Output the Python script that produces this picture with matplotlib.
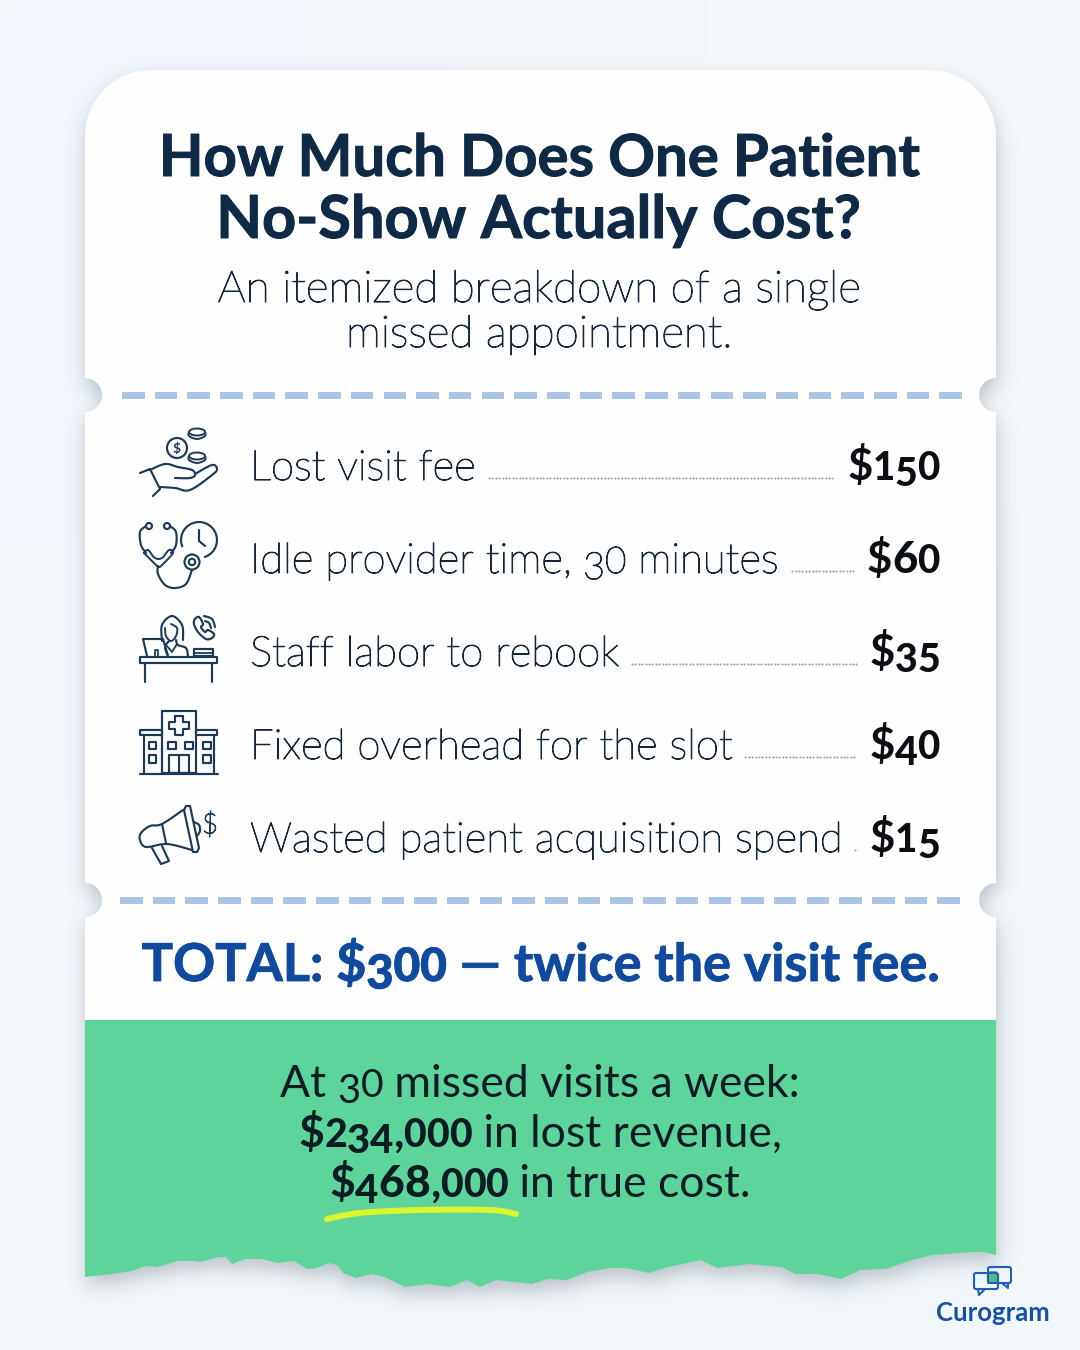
#!/usr/bin/env python
# no-show cost card, drawn in pixel coordinates
import numpy as np
import matplotlib
matplotlib.use("Agg")
import matplotlib.pyplot as plt
import matplotlib.patheffects as pe
from matplotlib.path import Path
from matplotlib.patches import Circle, Ellipse, FancyBboxPatch, Polygon, Rectangle

title_lines = ["How Much Does One Patient", "No-Show Actually Cost?"]
subtitle_lines = ["An itemized breakdown of a single", "missed appointment."]
item_labels = ["Lost visit fee", "Idle provider time, 30 minutes", "Staff labor to rebook",
               "Fixed overhead for the slot", "Wasted patient acquisition spend"]
item_costs = [150, 60, 35, 40, 15]
total_text = "TOTAL: $300 — twice the visit fee."
footer_lines = [[("At 30 missed visits a week:", "normal")],
                [("$234,000", "bold"), (" in lost revenue,", "normal")],
                [("$468,000", "bold"), (" in true cost.", "normal")]]
brand = "Curogram"

NAVY = "#0f2a47"
BODY = "#14263a"
ICON = "#1c3a58"
BLUE = "#0f4a9e"
GREEN = "#5dd49b"
FONT = "Lato"

fig = plt.figure(figsize=(10.8, 13.5), dpi=100)
ax = fig.add_axes([0, 0, 1, 1])
renderer = fig.canvas.get_renderer()

# pale page background
bg = np.array([[[0.945, 0.968, 0.988], [0.965, 0.98, 0.992]],
               [[0.955, 0.975, 0.99], [0.945, 0.97, 0.985]]])
ax.imshow(bg, extent=(0, 1080, 1350, 0), interpolation="bicubic", aspect="auto", zorder=0)
ax.set_xlim(0, 1080)
ax.set_ylim(1350, 0)
ax.axis("off")


def arc(cx, cy, r, a0, a1, n=24):
    t = np.radians(np.linspace(a0, a1, n))
    return np.column_stack([cx + r * np.cos(t), cy + r * np.sin(t)])


def spline(pts, closed=False, n=10):
    # catmull-rom through hand read points, gives softer icon lines
    p = np.array(pts, float)
    if closed:
        p = np.vstack([p[-1], p, p[0], p[1]])
    else:
        p = np.vstack([p[0], p, p[-1]])
    out = []
    for i in range(1, len(p) - 2):
        t = np.linspace(0, 1, n)[:, None]
        a, b, c, d = p[i - 1], p[i], p[i + 1], p[i + 2]
        out.append(0.5 * (2 * b + (c - a) * t + (2 * a - 5 * b + 4 * c - d) * t ** 2
                          + (3 * b - a - 3 * c + d) * t ** 3))
    return np.vstack(out)


def ink(pts, lw=1.55, smooth=True, closed=False, color=ICON):
    xy = spline(pts, closed) if smooth else np.array(pts, float)
    ax.plot(xy[:, 0], xy[:, 1], color=color, lw=lw, solid_capstyle="round",
            solid_joinstyle="round", zorder=5)


def box(x0, y0, x1, y1, lw=1.55):
    ax.add_patch(Rectangle((x0, y0), x1 - x0, y1 - y0, fc="none", ec=ICON, lw=lw,
                           joinstyle="round", zorder=5))


def ring(cx, cy, r, lw=1.55):
    ax.add_patch(Circle((cx, cy), r, fc="none", ec=ICON, lw=lw, zorder=5))


# paper outline
torn_x = [85, 112, 132, 145, 158, 177, 193, 200, 219, 226, 232, 245, 262, 278, 294, 307, 317, 328, 337,
          343, 356, 372, 385, 405, 428, 450, 467, 480, 496, 532, 548, 567, 587, 610, 626, 649, 668, 701,
          717, 750, 782, 795, 818, 841, 860, 886, 912, 932, 971, 984, 996]
torn_y = [1277, 1274, 1271, 1266, 1267, 1261, 1261, 1262, 1257, 1257, 1264, 1259, 1259, 1263, 1261, 1269,
          1268, 1263, 1265, 1273, 1278, 1274, 1277, 1287, 1284, 1287, 1280, 1287, 1280, 1284, 1279, 1280,
          1272, 1268, 1268, 1273, 1267, 1260, 1268, 1264, 1267, 1274, 1274, 1279, 1270, 1269, 1260, 1255,
          1252, 1252, 1255]
torn = np.column_stack([torn_x, torn_y])
L, R, TOP, SPLIT = 85, 996, 70, 1020
RAD, NOTCH = 66, 17
upper_run = np.vstack([
    arc(L, 900, NOTCH, 90, -90),
    arc(L, 395, NOTCH, 90, -90),
    arc(L + RAD, TOP + RAD, RAD, 180, 270),
    arc(R - RAD, TOP + RAD, RAD, 270, 360),
    arc(R, 395, NOTCH, 270, 90),
    arc(R, 900, NOTCH, 270, 90),
])
top_part = np.vstack([upper_run, [[R, SPLIT], [L, SPLIT]]])
whole = np.vstack([upper_run, torn[::-1]])

# soft shadow: blurred mask of the paper outline
yy, xx = np.mgrid[0:1350:2, 0:1080:2]
mask = Path(whole).contains_points(np.column_stack([xx.ravel(), yy.ravel() - 8])).reshape(xx.shape).astype(float)
kernel = np.exp(-0.5 * (np.arange(-15, 16) / 5.0) ** 2)
kernel /= kernel.sum()
blur = np.apply_along_axis(lambda v: np.convolve(v, kernel, mode="same"), 0, mask)
blur = np.apply_along_axis(lambda v: np.convolve(v, kernel, mode="same"), 1, blur)
shadow = np.zeros(mask.shape + (4,))
shadow[..., :3] = [0.22, 0.28, 0.34]
shadow[..., 3] = blur * 0.3
ax.imshow(shadow, extent=(0, 1080, 1350, 0), interpolation="bilinear", aspect="auto", zorder=1)
ax.set_xlim(0, 1080)
ax.set_ylim(1350, 0)

ax.add_patch(Polygon(top_part, closed=True, fc="#fdfefd", ec="none", zorder=2))
green_part = np.vstack([[[L, SPLIT], [R, SPLIT]], torn[::-1]])
ax.add_patch(Polygon(green_part, closed=True, fc=GREEN, ec="none", zorder=2))


# text helpers, digits are placed one at a time to get old-style figures
def text_width(s, size, weight):
    t = ax.text(0, 0, "|" + s + "|", fontsize=size, fontweight=weight, family=FONT)
    w = t.get_window_extent(renderer).width
    t.set_text("||")
    w -= t.get_window_extent(renderer).width
    t.remove()
    return w


DIGIT_SCALE = {"0": 0.88, "1": 0.88, "2": 0.88, "3": 0.9, "4": 0.9, "5": 0.9, "7": 0.9, "9": 0.9}
DIGIT_DROP = {"3": 0.2, "4": 0.2, "5": 0.2, "7": 0.2, "9": 0.2}


def split_runs(runs):
    out = []
    for s, weight in runs:
        buf = ""
        for ch in s:
            if ch.isdigit():
                if buf:
                    out.append((buf, weight, False))
                    buf = ""
                out.append((ch, 900 if weight == "bold" else weight, True))
            else:
                buf += ch
        if buf:
            out.append((buf, weight, False))
    return out


def runs_width(parts, size):
    return sum(text_width(s, size * DIGIT_SCALE.get(s, 1) if d else size, w) for s, w, d in parts)


def draw_runs(x, base, runs, size, color, align="left", thicken=0):
    parts = split_runs(runs)
    total = runs_width(parts, size)
    if align == "center":
        x -= total / 2
    elif align == "right":
        x -= total
    start = x
    for s, weight, is_digit in parts:
        sz = size * DIGIT_SCALE.get(s, 1) if is_digit else size
        drop = size * DIGIT_DROP.get(s, 0) if is_digit else 0
        t = ax.text(x, base + drop, s, fontsize=sz, fontweight=weight, family=FONT, color=color,
                    ha="left", va="baseline", zorder=6)
        if thicken:
            t.set_path_effects([pe.withStroke(linewidth=thicken, foreground=color)])
        x += text_width(s, sz, weight)
    return start, x


# header
for line, base, size in zip(title_lines, [176, 238], [41.8, 42.8]):
    draw_runs(539, base, [(line, "bold")], size, NAVY, "center", thicken=0.7)
for line, base in zip(subtitle_lines, [302, 347]):
    draw_runs(539, base, [(line, "light")], 31.7, BODY, "center", thicken=0.75)

# dashed tear lines
for yy_dash, x0, x1 in [(395, 122, 960), (900, 120, 961)]:
    for x_dash in np.arange(x0, x1 - 10, 32.7):
        ax.add_patch(Rectangle((x_dash, yy_dash - 3), 22.5, 6.5, fc="#a9c6e6", ec="none", zorder=3))

# item rows
row_base = [480, 573, 666, 759, 852]
for label, cost, base in zip(item_labels, item_costs, row_base):
    _, label_end = draw_runs(250, base, [(label, "light")], 30.2, BODY, thicken=0.75)
    cost_start, _ = draw_runs(940, base, [("$%d" % cost, "bold")], 31.5, "#0b0f14", "right")
    dots = np.arange(label_end + 14, cost_start - 12, 3.4)
    ax.plot(dots, np.full(len(dots), base - 2), ls="none", marker="o", ms=1.5, color="#94a1ae",
            mew=0, zorder=4)

# icon: hand and coins
ink([(140, 473), (150, 469)], smooth=False)
ink([(150, 469), (160, 489), (153, 496)], smooth=False)
ink([(150, 470), (165, 464), (178, 467), (192, 470), (195, 475), (190, 478), (175, 478)])
ink([(195, 474), (212, 465), (217, 469), (212, 475), (190, 490), (175, 488), (160, 487)])
ring(177, 448, 10)
ax.text(177, 448.5, "$", fontsize=10, fontweight="bold", family=FONT, color=ICON, ha="center",
        va="center", zorder=6)
for cy in [434, 458]:
    ax.add_patch(Ellipse((197, cy - 2), 16, 7, fc="none", ec=ICON, lw=1.4, zorder=5))
    ink([(189, cy - 2), (189, cy + 2), (197, cy + 5), (205, cy + 2), (205, cy - 2)], lw=1.4)

# icon: stethoscope and clock
ring(149, 526, 3)
ring(167, 526, 3)
ink([(146, 526), (140, 532), (141, 545), (146, 553)])
ink([(170, 526), (176, 532), (176, 545), (171, 553)])
ink([(144, 553), (148, 550), (155, 558), (162, 558), (169, 550), (173, 553), (164, 563), (159, 567),
     (154, 563), (144, 553)], lw=1.4)
ink([(158, 566), (158, 574), (165, 585), (175, 588), (186, 584), (192, 570)])
ring(192, 562, 7.5)
ring(192, 562, 3.2)
clock = arc(199, 540, 18, 70, -200)
ax.plot(clock[:, 0], clock[:, 1], color=ICON, lw=1.55, zorder=5)
ink([(199, 530), (199, 541), (205, 546)], smooth=False)

# icon: receptionist at a desk
box(140, 657, 217, 662.5)
ink([(145, 663), (145, 682)], smooth=False)
ink([(212, 663), (212, 682)], smooth=False)
ink([(168, 656), (163, 639), (143, 639), (147, 656)], smooth=False)
ink([(155, 656), (155, 650), (158, 650), (158, 656)], smooth=False, lw=1.3)
ink([(162, 641), (162, 625), (172, 616), (182, 625), (183, 640)])
ink([(165, 628), (166, 636), (171, 641), (176, 636), (177, 628), (171, 624)], lw=1.4)
ink([(169, 641), (165, 647), (168, 656)])
ink([(176, 640), (178, 645), (186, 648), (188, 656)])
ink([(167, 646), (172, 652), (177, 644)], smooth=False, lw=1.3)
box(194, 649, 213, 656)
ink([(194, 652.5), (213, 652.5)], smooth=False, lw=1.3)
ink([(195, 619), (199, 617), (203, 624), (201, 627), (205, 632), (208, 630), (214, 634), (212, 638),
     (206, 639), (198, 632), (194, 624)], closed=True)
ink([(205, 621), (209, 623), (211, 628)])
ink([(204, 616), (212, 619), (215, 627)])

# icon: hospital
box(161.5, 711, 196, 773)
box(140, 729.5, 161.5, 735)
box(196, 729.5, 217, 735)
ink([(143.5, 735), (143.5, 773)], smooth=False)
ink([(214, 735), (214, 773)], smooth=False)
ink([(140, 773.5), (217.5, 773.5)], smooth=False)
ink([(175, 716), (183, 716), (183, 722), (189, 722), (189, 729), (183, 729), (183, 735), (175, 735),
     (175, 729), (169, 729), (169, 722), (175, 722), (175, 716)], smooth=False)
for wx in [148.5, 168, 185, 203]:
    box(wx, 741.5, wx + 7.5, 749)
for wx in [148.5, 203]:
    box(wx, 755, wx + 7.5, 762.5)
box(169, 755, 188.5, 773)
ink([(178.5, 755), (178.5, 773)], smooth=False)

# icon: megaphone
ink([(183, 810), (162, 824), (150, 826), (141, 833), (140, 840), (146, 847), (167, 844), (192, 850)])
ink([(162, 824), (166, 843)], smooth=False)
ink([(184, 810), (186, 806), (190, 806), (199, 848), (197, 852), (193, 852), (184, 810)], smooth=False)
ink([(194, 822), (199, 825), (200, 831), (197, 836)])
ink([(152, 848), (161, 864), (169, 861), (162, 846)], smooth=False)
dollar = ax.text(210, 825, "$", fontsize=20, fontweight="light", family=FONT, color=ICON, ha="center",
                 va="center", zorder=6)
dollar.set_path_effects([pe.withStroke(linewidth=0.8, foreground=ICON)])

# total line
draw_runs(541, 981, [(total_text, "bold")], 37.6, BLUE, "center", thicken=0.6)

# green footer
for runs, base in zip(footer_lines, [1097, 1147, 1197]):
    draw_runs(540, base, runs, 32, "#0b1c22", "center")
swoosh = spline([(327, 1219), (360, 1213), (420, 1210), (490, 1210), (516, 1214)])
ax.plot(swoosh[:, 0], swoosh[:, 1], color="#dcf52e", lw=4.3, solid_capstyle="round", zorder=6)

# logo
ax.add_patch(FancyBboxPatch((988, 1267), 23, 16, boxstyle="round,pad=0,rounding_size=2", fc="none",
                            ec="#1f5fb4", lw=1.5, zorder=5))
ax.add_patch(Rectangle((987, 1271), 10, 13, fc="#58b98f", ec="none", zorder=4))
ax.add_patch(FancyBboxPatch((974, 1273), 24, 16, boxstyle="round,pad=0,rounding_size=2", fc="none",
                            ec="#1f5fb4", lw=1.5, zorder=5))
ink([(978, 1289), (979, 1295), (985, 1289)], smooth=False, color="#1f5fb4", lw=1.5)
ink([(1002, 1283), (1008, 1288), (1008, 1283)], smooth=False, color="#1f5fb4", lw=1.5)
ax.text(992.5, 1321, brand, fontsize=18.5, fontweight="bold", family=FONT, color="#1450a8", ha="center",
        va="baseline", zorder=6)

fig.savefig("out.png", dpi=100)
